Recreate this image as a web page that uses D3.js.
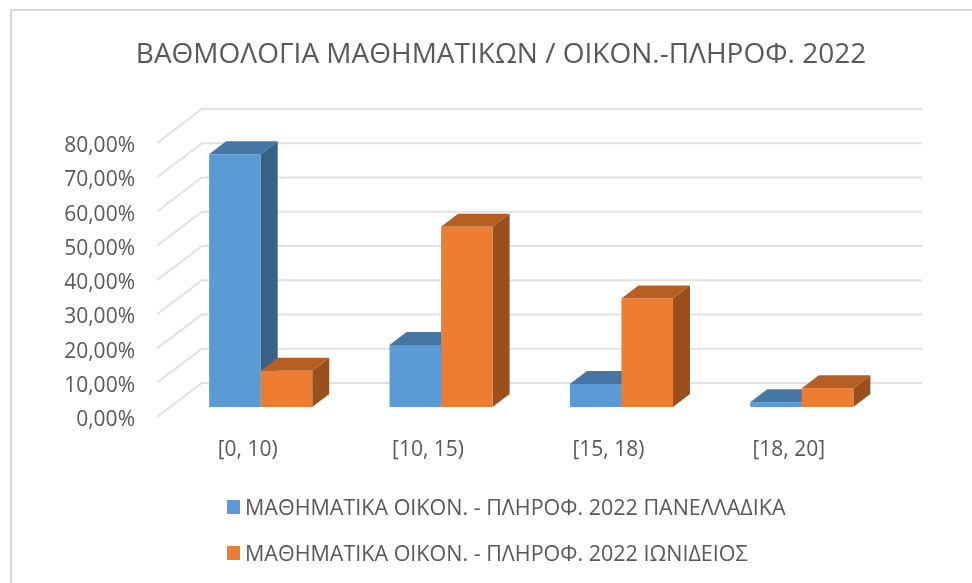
<!DOCTYPE html>
<html>
  <head>
    <meta charset="UTF-8">
    <style>
      html, body {
        margin: 0;
        padding: 0;
        background: #fff;
      }

      svg {
        display: block;
        filter: blur(0.45px);
      }

      text {
        font-family: "Open Sans", sans-serif;
        fill: #595959;
      }

      .tick text {
        font-size: 21px;
      }

      .title {
        font-size: 28px;
      }

      .legend-label {
        font-size: 21.5px;
      }
    </style>
    <script src="https://d3js.org/d3.v7.min.js"></script>
  </head>

  <body>
    <svg id="chart"></svg>

    <script type="text/javascript">
      const title = 'ΒΑΘΜΟΛΟΓΙΑ ΜΑΘΗΜΑΤΙΚΩΝ / ΟΙΚΟΝ.-ΠΛΗΡΟΦ. 2022'
      const categories = ['[0, 10)', '[10, 15)', '[15, 18)', '[18, 20]']
      const seriesNames = [
        'ΜΑΘΗΜΑΤΙΚΑ ΟΙΚΟΝ. - ΠΛΗΡΟΦ. 2022 ΠΑΝΕΛΛΑΔΙΚΑ',
        'ΜΑΘΗΜΑΤΙΚΑ ΟΙΚΟΝ. - ΠΛΗΡΟΦ. 2022 ΙΩΝΙΔΕΙΟΣ'
      ]
      const panhellenic = [73.8, 18.1, 6.7, 1.4]
      const ionideios = [10.6, 52.6, 31.7, 5.5]
      const yTicks = [0, 10, 20, 30, 40, 50, 60, 70, 80]

      const width = 972
      const height = 583

      // bars stand on this plane, the wall sits behind it
      const floorY = 407
      const unitY = 3.425
      const depth = {x: 17, y: -13}
      const wall = {x: 45, y: -34}

      const colors = [
        {front: '#5b9bd5', top: '#4676a3', side: '#386387'},
        {front: '#ed7d31', top: '#b55f22', side: '#9a501c'}
      ]

      let svg = d3.select('#chart')
        .attr('width', width)
        .attr('height', height)

      let y = d3.scaleLinear()
        .domain([0, 80])
        .range([floorY, floorY - 80 * unitY])

      let x = d3.scaleBand()
        .domain(categories)
        .range([170.5, 892])

      let xSeries = d3.scaleBand()
        .domain([0, 1])
        .range([0, x.bandwidth()])
        .paddingOuter(0.75)
        .paddingInner(0)

      function drawFrame() {
        // only the top and left edges of the chart area are in the picture
        svg.append('path')
          .attr('d', `M11,${height}V10H${width}`)
          .attr('fill', 'none')
          .attr('stroke', '#d9d9d9')
          .attr('stroke-width', 2)

        svg.append('text')
          .attr('class', 'title')
          .attr('x', 501)
          .attr('y', 63)
          .attr('text-anchor', 'middle')
          .text(title)
      }

      function drawGrid() {
        let frontY = v => y(v) + 10
        let grid = svg.append('g')
          .attr('fill', 'none')
          .attr('stroke', '#e2e2e2')
          .attr('stroke-width', 2)

        grid.selectAll('path')
          .data(yTicks)
          .join('path')
          .attr('d', d => {
            let p = d3.path()
            p.moveTo(157, frontY(d))
            p.lineTo(157 + wall.x, frontY(d) + wall.y)
            p.lineTo(922, frontY(d) + wall.y)
            return p.toString()
          })
      }

      function drawAxes() {
        let yAxis = d3.axisLeft(y)
          .tickValues(yTicks)
          .tickSize(0)
          .tickPadding(0)
          .tickFormat(d => d3.format('.2f')(d).replace('.', ',') + '%')

        svg.append('g')
          .attr('transform', 'translate(135, 12)')
          .call(yAxis)
          .select('.domain')
          .remove()

        let xAxis = d3.axisBottom(x)
          .tickSize(0)
          .tickPadding(0)

        svg.append('g')
          .attr('transform', 'translate(-13, 441)')
          .call(xAxis)
          .select('.domain')
          .remove()
      }

      function drawBars() {
        let bars = []
        categories.forEach((c, i) => {
          bars.push({category: c, series: 0, value: panhellenic[i]})
          bars.push({category: c, series: 1, value: ionideios[i]})
        })

        // back to front so the orange sides sit over the blue ones
        let bar = svg.append('g')
          .selectAll('g')
          .data(bars)
          .join('g')
          .attr('transform', d => `translate(${x(d.category) + xSeries(d.series)}, 0)`)

        let w = xSeries.bandwidth()

        bar.append('path')
          .attr('fill', d => colors[d.series].top)
          .attr('d', d => {
            let t = y(d.value)
            return `M0,${t}L${depth.x},${t + depth.y}L${w + depth.x},${t + depth.y}L${w},${t}Z`
          })

        bar.append('path')
          .attr('fill', d => colors[d.series].side)
          .attr('d', d => {
            let t = y(d.value)
            return `M${w},${t}L${w + depth.x},${t + depth.y}L${w + depth.x},${floorY + depth.y}L${w},${floorY}Z`
          })

        bar.append('rect')
          .attr('y', d => y(d.value))
          .attr('width', w)
          .attr('height', d => floorY - y(d.value))
          .attr('fill', d => colors[d.series].front)
      }

      function drawLegend() {
        let legend = svg.append('g')
          .selectAll('g')
          .data(seriesNames)
          .join('g')
          .attr('transform', (d, i) => `translate(227, ${507 + i * 46})`)

        legend.append('rect')
          .attr('y', -7)
          .attr('width', 13)
          .attr('height', 14)
          .attr('fill', (d, i) => colors[i].front)

        legend.append('text')
          .attr('class', 'legend-label')
          .attr('x', 18)
          .attr('y', 8)
          .text(d => d)
      }

      drawFrame()
      drawGrid()
      drawBars()
      drawAxes()
      drawLegend()
    </script>
  </body>
</html>
